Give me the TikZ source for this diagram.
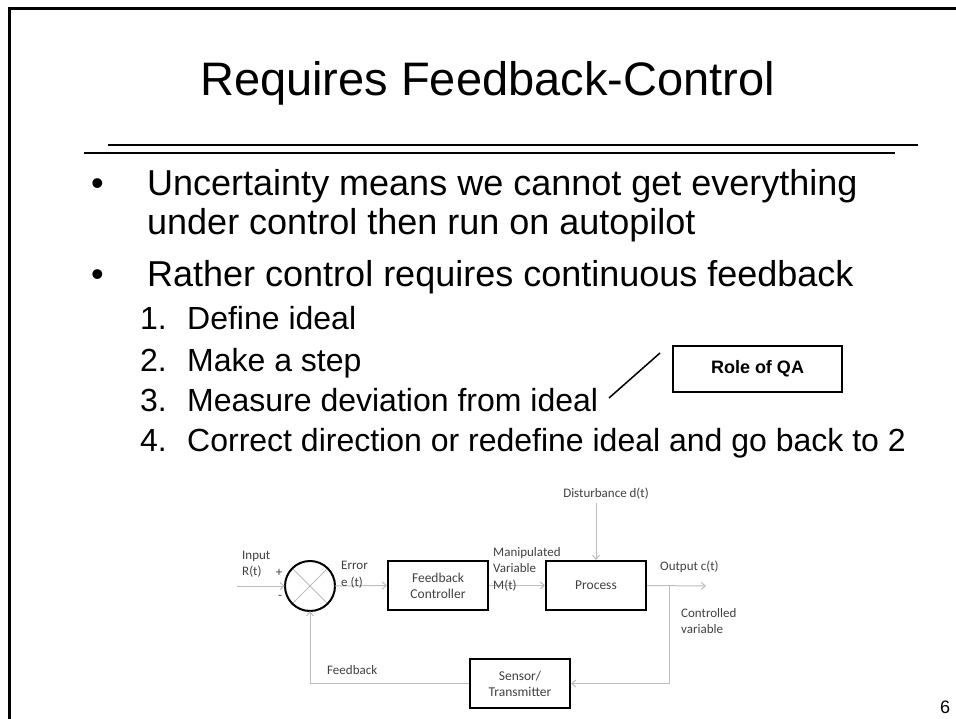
\documentclass[tikz,border=0pt]{standalone}
\usepackage{fontspec}
\setmainfont{Liberation Sans}
\newfontfamily\diagfont{Carlito}
\usetikzlibrary{arrows.meta}
\definecolor{dtext}{HTML}{404040}
\definecolor{arrowgray}{HTML}{BDBDBD}
\tikzset{
  slidetext/.style={anchor=base west, inner sep=0pt, font=\fontsize{36}{40}\selectfont},
  itemtext/.style={anchor=base west, inner sep=0pt, font=\fontsize{32}{36}\selectfont},
  dlabel/.style={anchor=base west, inner sep=0pt, text=dtext, font=\diagfont\fontsize{13}{15}\selectfont},
  blockbox/.style={draw=black, line width=2pt, minimum width=100pt, minimum height=49pt, inner sep=0pt, align=center, text=dtext, font=\diagfont\fontsize{13.5}{16}\selectfont},
  sig/.style={draw=arrowgray, line width=1pt, -{Straight Barb[length=4pt,width=7pt]}},
  sigline/.style={draw=arrowgray, line width=1pt},
}
\begin{document}
\begin{tikzpicture}[x=1pt,y=-1pt]
\useasboundingbox (0,0) rectangle (956,719);
% frame
\draw[line width=3pt] (9.8,719) -- (9.8,8.7) -- (956,8.7);
% title
\node[anchor=base, inner sep=0pt, font=\fontsize{47}{52}\selectfont] (title) at (487.5,96) {Requires Feedback-Control};
\draw[line width=2pt] (108,145) -- (918,145);
\draw[line width=2.2pt] (84,153) -- (895,153);
% bullets
\node[slidetext] (b1) at (91,196) {•};
\node[slidetext] (t1a) at (147,196) {Uncertainty means we cannot get everything};
\node[slidetext] (t1b) at (147,235) {under control then run on autopilot};
\node[slidetext] (b2) at (91,287) {•};
\node[slidetext] (t2) at (147,287) {Rather control requires continuous feedback};
\node[itemtext] (n1) at (140,330) {1.};
\node[itemtext] (i1) at (187,330) {Define ideal};
\node[itemtext] (n2) at (140,371) {2.};
\node[itemtext] (i2) at (187,371) {Make a step};
\node[itemtext] (n3) at (140,411) {3.};
\node[itemtext] (i3) at (187,411) {Measure deviation from ideal};
\node[itemtext] (n4) at (140,451) {4.};
\node[itemtext] (i4) at (187,451) {Correct direction or redefine ideal and go back to 2};
% role of QA
\node[draw, line width=2pt, minimum width=169pt, minimum height=46pt, inner sep=0pt, font=\bfseries\fontsize{18}{20}\selectfont] (qa) at (757.5,369) {Role of QA};
\coordinate (qaA) at (609,398);
\coordinate (qaB) at (660,353);
\draw[line width=1.5pt] (qaA) -- (qaB);
% diagram
\node[circle, minimum size=50pt, inner sep=0pt] (sum) at (310,586) {};
\draw[sigline] (sum.north east) -- (sum.south west);
\draw[sigline] (sum.north west) -- (sum.south east);
\draw[black, line width=2pt] (sum.center) circle[radius=25pt];
\node[blockbox] (fc) at (438,585.5) {Feedback\\Controller};
\node[blockbox] (proc) at (596,585.5) {Process};
\node[blockbox] (sens) at (520,683.5) {Sensor/\\Transmitter};
\coordinate (inL) at (237,586);
\coordinate (outR) at (706,586);
\coordinate (br) at (669,586);
\coordinate (dtop) at (596,503);
\draw[sig] (inL) -- (sum.west);
\draw[sig] (sum.east) -- (fc.west);
\draw[sig] (fc.east) -- (proc.west);
\draw[sig] (proc.east) -- (outR);
\draw[sig] (br) |- (sens.east);
\draw[sig] (sens.west) -| (sum.south);
\draw[sig] (dtop) -- (proc.north);
% labels
\node[dlabel] (lin1) at (242,559) {Input};
\node[dlabel] (lin2) at (242,575) {R(t)};
\node[anchor=center, inner sep=0pt, text=dtext, font=\diagfont\fontsize{13}{15}\selectfont] (plus) at (279,573) {+};
\node[anchor=center, inner sep=0pt, text=dtext, font=\diagfont\fontsize{13}{15}\selectfont] (minus) at (280,597) {-};
\node[dlabel] (lerr1) at (341,569) {Error};
\node[dlabel] (lerr2) at (341,586) {e (t)};
\node[dlabel] (lm1) at (493,556) {Manipulated};
\node[dlabel] (lm2) at (493,572) {Variable};
\node[dlabel] (lm3) at (493,589) {M(t)};
\node[dlabel] (lout) at (660,570) {Output c(t)};
\node[dlabel] (lc1) at (681,617) {Controlled};
\node[dlabel] (lc2) at (681,633) {variable};
\node[dlabel] (lfb) at (327,674) {Feedback};
\node[dlabel, anchor=base] (ldist) at (606,497) {Disturbance d(t)};
% slide number
\node[anchor=base, inner sep=0pt, font=\fontsize{18}{20}\selectfont] (pnum) at (945,713) {6};
\end{tikzpicture}
\end{document}
